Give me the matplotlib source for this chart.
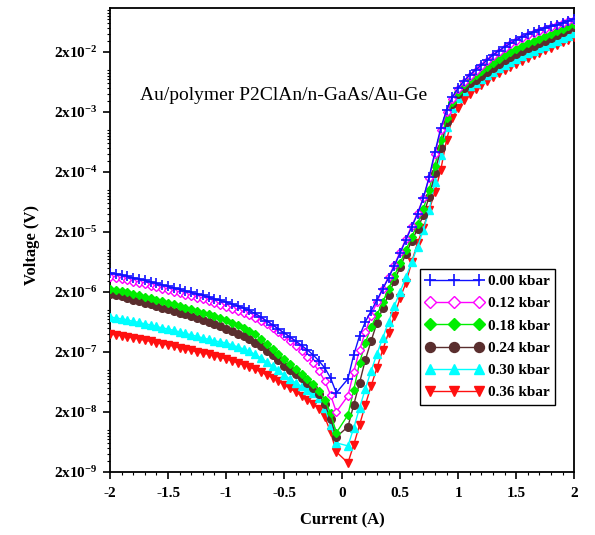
import numpy as np
import matplotlib
matplotlib.use("Agg")
import matplotlib.pyplot as plt
from matplotlib.ticker import FixedLocator, FixedFormatter, MultipleLocator, LogLocator, NullFormatter

plt.rcParams['font.family'] = ['Liberation Serif', 'DejaVu Serif']
plt.rcParams['font.weight'] = 'bold'
plt.rcParams['mathtext.default'] = 'regular'

# current grid (the point at 0 A is missing in the original data)
current = np.concatenate([np.linspace(-2, -0.05, 40), np.linspace(0.05, 2, 40)])

# voltage, one list per pressure
v_000 = [4.15e-6, 3.99e-6, 3.84e-6, 3.63e-6, 3.42e-6, 3.29e-6, 3.11e-6, 2.94e-6,
         2.77e-6, 2.62e-6, 2.47e-6, 2.33e-6, 2.20e-6, 2.08e-6, 1.96e-6, 1.85e-6,
         1.75e-6, 1.65e-6, 1.53e-6, 1.44e-6, 1.36e-6, 1.26e-6, 1.17e-6, 1.08e-6,
         9.83e-7, 8.76e-7, 7.66e-7, 6.57e-7, 5.64e-7, 4.83e-7, 4.15e-7, 3.56e-7,
         3.05e-7, 2.57e-7, 2.16e-7, 1.78e-7, 1.42e-7, 1.08e-7, 7.37e-8, 4.15e-8,
         7.10e-8, 1.78e-7, 3.70e-7, 6.33e-7, 9.65e-7, 1.47e-6, 2.24e-6, 3.42e-6,
         5.42e-6, 8.93e-6, 1.47e-5, 2.42e-5, 3.99e-5, 7.37e-5, 1.65e-4, 4.31e-4,
         1.08e-3, 2.16e-3, 3.56e-3, 5.02e-3, 6.57e-3, 8.27e-3, 1.00e-2, 1.21e-2,
         1.47e-2, 1.78e-2, 2.08e-2, 2.42e-2, 2.77e-2, 3.17e-2, 3.56e-2, 3.92e-2,
         4.31e-2, 4.65e-2, 5.02e-2, 5.32e-2, 5.64e-2, 6.09e-2, 6.57e-2, 7.10e-2]

v_012 = [3.56e-6, 3.42e-6, 3.29e-6, 3.11e-6, 2.94e-6, 2.83e-6, 2.67e-6, 2.52e-6,
         2.38e-6, 2.24e-6, 2.12e-6, 2.00e-6, 1.89e-6, 1.78e-6, 1.68e-6, 1.59e-6,
         1.50e-6, 1.42e-6, 1.31e-6, 1.21e-6, 1.13e-6, 1.04e-6, 9.65e-7, 8.93e-7,
         8.12e-7, 7.37e-7, 6.57e-7, 5.75e-7, 5.02e-7, 4.31e-7, 3.63e-7, 3.05e-7,
         2.52e-7, 2.08e-7, 1.65e-7, 1.29e-7, 9.65e-8, 6.57e-8, 3.84e-8, 2.00e-8,
         3.70e-8, 9.28e-8, 2.16e-7, 4.31e-7, 7.96e-7, 1.36e-6, 2.24e-6, 3.56e-6,
         5.64e-6, 9.28e-6, 1.53e-5, 2.52e-5, 4.15e-5, 7.37e-5, 1.59e-4, 3.99e-4,
         1.00e-3, 2.00e-3, 3.29e-3, 4.83e-3, 6.33e-3, 7.96e-3, 9.65e-3, 1.17e-2,
         1.42e-2, 1.72e-2, 2.00e-2, 2.33e-2, 2.72e-2, 3.05e-2, 3.42e-2, 3.84e-2,
         4.15e-2, 4.48e-2, 4.83e-2, 5.22e-2, 5.53e-2, 5.97e-2, 6.45e-2, 6.83e-2]

v_018 = [2.24e-6, 2.16e-6, 2.08e-6, 1.96e-6, 1.85e-6, 1.75e-6, 1.65e-6, 1.56e-6,
         1.47e-6, 1.39e-6, 1.31e-6, 1.24e-6, 1.17e-6, 1.08e-6, 1.02e-6, 9.65e-7,
         8.93e-7, 8.43e-7, 7.81e-7, 7.37e-7, 6.83e-7, 6.09e-7, 5.53e-7, 5.02e-7,
         4.48e-7, 3.92e-7, 3.29e-7, 2.72e-7, 2.24e-7, 1.85e-7, 1.53e-7, 1.26e-7,
         1.04e-7, 8.43e-8, 7.10e-8, 5.86e-8, 4.48e-8, 3.17e-8, 1.92e-8, 8.93e-9,
         1.78e-8, 4.65e-8, 1.31e-7, 2.83e-7, 5.22e-7, 8.27e-7, 1.36e-6, 2.24e-6,
         3.70e-6, 6.09e-6, 1.00e-5, 1.65e-5, 2.72e-5, 4.83e-5, 1.00e-4, 2.52e-4,
         6.83e-4, 1.59e-3, 2.94e-3, 4.31e-3, 5.86e-3, 7.10e-3, 8.27e-3, 9.65e-3,
         1.13e-2, 1.31e-2, 1.53e-2, 1.78e-2, 2.00e-2, 2.24e-2, 2.52e-2, 2.77e-2,
         3.05e-2, 3.29e-2, 3.63e-2, 3.99e-2, 4.39e-2, 4.83e-2, 5.32e-2, 5.86e-2]

v_024 = [1.85e-6, 1.75e-6, 1.68e-6, 1.59e-6, 1.47e-6, 1.42e-6, 1.31e-6, 1.24e-6,
         1.17e-6, 1.08e-6, 1.02e-6, 9.65e-7, 8.93e-7, 8.43e-7, 7.81e-7, 7.37e-7,
         6.83e-7, 6.33e-7, 5.75e-7, 5.32e-7, 4.83e-7, 4.39e-7, 3.99e-7, 3.63e-7,
         3.23e-7, 2.83e-7, 2.47e-7, 2.08e-7, 1.75e-7, 1.47e-7, 1.17e-7, 1.00e-7,
         8.60e-8, 7.23e-8, 6.09e-8, 5.02e-8, 3.99e-8, 2.72e-8, 1.53e-8, 7.66e-9,
         1.13e-8, 2.62e-8, 6.09e-8, 1.47e-7, 3.05e-7, 6.09e-7, 1.08e-6, 1.78e-6,
         3.05e-6, 5.22e-6, 8.60e-6, 1.42e-5, 2.24e-5, 3.84e-5, 7.66e-5, 1.92e-4,
         5.02e-4, 1.36e-3, 2.72e-3, 3.99e-3, 5.02e-3, 6.09e-3, 6.83e-3, 7.96e-3,
         9.28e-3, 1.08e-2, 1.26e-2, 1.47e-2, 1.65e-2, 1.85e-2, 2.08e-2, 2.29e-2,
         2.52e-2, 2.77e-2, 3.05e-2, 3.42e-2, 3.84e-2, 4.31e-2, 4.74e-2, 5.22e-2]

v_030 = [7.66e-7, 7.37e-7, 7.10e-7, 6.83e-7, 6.45e-7, 6.21e-7, 5.86e-7, 5.64e-7,
         5.32e-7, 5.02e-7, 4.83e-7, 4.56e-7, 4.31e-7, 4.07e-7, 3.84e-7, 3.63e-7,
         3.42e-7, 3.23e-7, 3.05e-7, 2.94e-7, 2.83e-7, 2.62e-7, 2.42e-7, 2.24e-7,
         2.04e-7, 1.82e-7, 1.59e-7, 1.36e-7, 1.17e-7, 9.83e-8, 8.27e-8, 7.10e-8,
         6.09e-8, 5.32e-8, 4.65e-8, 4.15e-8, 3.42e-8, 2.33e-8, 1.21e-8, 6.09e-9,
         5.42e-9, 1.08e-8, 2.33e-8, 4.83e-8, 9.65e-8, 1.85e-7, 3.42e-7, 6.33e-7,
         1.17e-6, 2.00e-6, 3.56e-6, 6.33e-6, 1.13e-5, 2.16e-5, 4.65e-5, 1.36e-4,
         3.84e-4, 1.13e-3, 2.33e-3, 3.42e-3, 4.48e-3, 5.42e-3, 6.09e-3, 7.10e-3,
         8.27e-3, 9.28e-3, 1.08e-2, 1.21e-2, 1.36e-2, 1.53e-2, 1.72e-2, 1.89e-2,
         2.08e-2, 2.29e-2, 2.52e-2, 2.77e-2, 3.05e-2, 3.36e-2, 3.70e-2, 4.15e-2]

v_036 = [3.99e-7, 3.84e-7, 3.70e-7, 3.56e-7, 3.42e-7, 3.29e-7, 3.11e-7, 3.00e-7,
         2.83e-7, 2.72e-7, 2.62e-7, 2.47e-7, 2.33e-7, 2.24e-7, 2.12e-7, 2.00e-7,
         1.92e-7, 1.82e-7, 1.72e-7, 1.62e-7, 1.53e-7, 1.42e-7, 1.31e-7, 1.21e-7,
         1.13e-7, 1.02e-7, 9.28e-8, 8.27e-8, 7.37e-8, 6.57e-8, 5.64e-8, 4.93e-8,
         4.31e-8, 3.70e-8, 3.17e-8, 2.72e-8, 2.24e-8, 1.65e-8, 9.28e-9, 4.31e-9,
         2.83e-9, 5.64e-9, 1.21e-8, 2.62e-8, 5.42e-8, 1.08e-7, 2.16e-7, 4.15e-7,
         7.96e-7, 1.59e-6, 2.83e-6, 6.33e-6, 1.31e-5, 2.33e-5, 4.65e-5, 9.28e-5,
         2.16e-4, 6.83e-4, 1.59e-3, 2.33e-3, 3.17e-3, 3.99e-3, 4.83e-3, 5.64e-3,
         6.57e-3, 7.66e-3, 8.93e-3, 1.00e-2, 1.13e-2, 1.26e-2, 1.42e-2, 1.59e-2,
         1.75e-2, 1.92e-2, 2.12e-2, 2.33e-2, 2.62e-2, 2.88e-2, 3.17e-2, 3.56e-2]

labels = ['0.00 kbar', '0.12 kbar', '0.18 kbar', '0.24 kbar', '0.30 kbar', '0.36 kbar']
values = [v_000, v_012, v_018, v_024, v_030, v_036]

ytick_values = [2e-9, 2e-8, 2e-7, 2e-6, 2e-5, 2e-4, 2e-3, 2e-2]
ytick_labels = ['2x10$^{-9}$', '2x10$^{-8}$', '2x10$^{-7}$', '2x10$^{-6}$',
                '2x10$^{-5}$', '2x10$^{-4}$', '2x10$^{-3}$', '2x10$^{-2}$']

styles = [
    dict(color='#1010ff', marker='+', ms=7, mew=1.2),
    dict(color='#ff00ff', marker='D', ms=4.5, mfc='white', mew=1.0),
    dict(color='#00ee00', marker='D', ms=4.5),
    dict(color='#5a2e2e', marker='o', ms=5.5),
    dict(color='#00ffff', marker='^', ms=5.5),
    dict(color='#ff1010', marker='v', ms=5.5),
]

fig = plt.figure(figsize=(5.95, 5.35), dpi=100)
ax = fig.add_axes([0.185, 0.118, 0.780, 0.867])

for i, (lab, vals, st) in enumerate(zip(labels, values, styles)):
    ax.plot(current, vals, lw=1.0, label=lab, zorder=10 - i, **st)

ax.set_yscale('log')
ax.set_xlim(-2, 2)
ax.set_ylim(2e-9, 0.108)

ax.yaxis.set_major_locator(FixedLocator(ytick_values))
ax.yaxis.set_major_formatter(FixedFormatter(ytick_labels))
ax.yaxis.set_minor_locator(LogLocator(base=10, subs=(1, 3, 4, 5, 6, 7, 8, 9)))
ax.yaxis.set_minor_formatter(NullFormatter())
ax.xaxis.set_minor_locator(MultipleLocator(0.1))
ax.set_xticks([-2, -1.5, -1, -0.5, 0, 0.5, 1, 1.5, 2])
ax.set_xticklabels(['-2', '-1.5', '-1', '-0.5', '0', '0.5', '1', '1.5', '2'])

ax.tick_params(which='major', direction='out', length=5, width=1.2, labelsize=11)
ax.tick_params(axis='x', which='major', pad=6)
ax.tick_params(axis='y', which='major', pad=4)
ax.tick_params(which='minor', direction='out', length=2.5, width=0.8)
ax.tick_params(top=False, right=False)
for sp in ax.spines.values():
    sp.set_linewidth(1.3)

ax.set_xlabel('Current (A)', fontsize=12, fontweight='bold')
ax.set_ylabel('Voltage (V)', fontsize=12, fontweight='bold')
ax.xaxis.set_label_coords(0.5, -0.088)
ax.yaxis.set_label_coords(-0.15, 0.49)

ax.text(0.065, 0.812, 'Au/polymer P2ClAn/n-GaAs/Au-Ge', transform=ax.transAxes,
        fontsize=14, fontweight='normal', ha='left', va='center')

leg = ax.legend(loc='upper left', bbox_to_anchor=(0.668, 0.437), numpoints=3,
                handlelength=3.8, handletextpad=0.3, borderpad=0.35,
                labelspacing=0.56, fancybox=False, framealpha=1, markerscale=1.3,
                edgecolor='black', prop={'size': 11, 'weight': 'bold'},
                borderaxespad=0)
leg.get_frame().set_linewidth(1.0)

fig.savefig('out.png', dpi=100)
